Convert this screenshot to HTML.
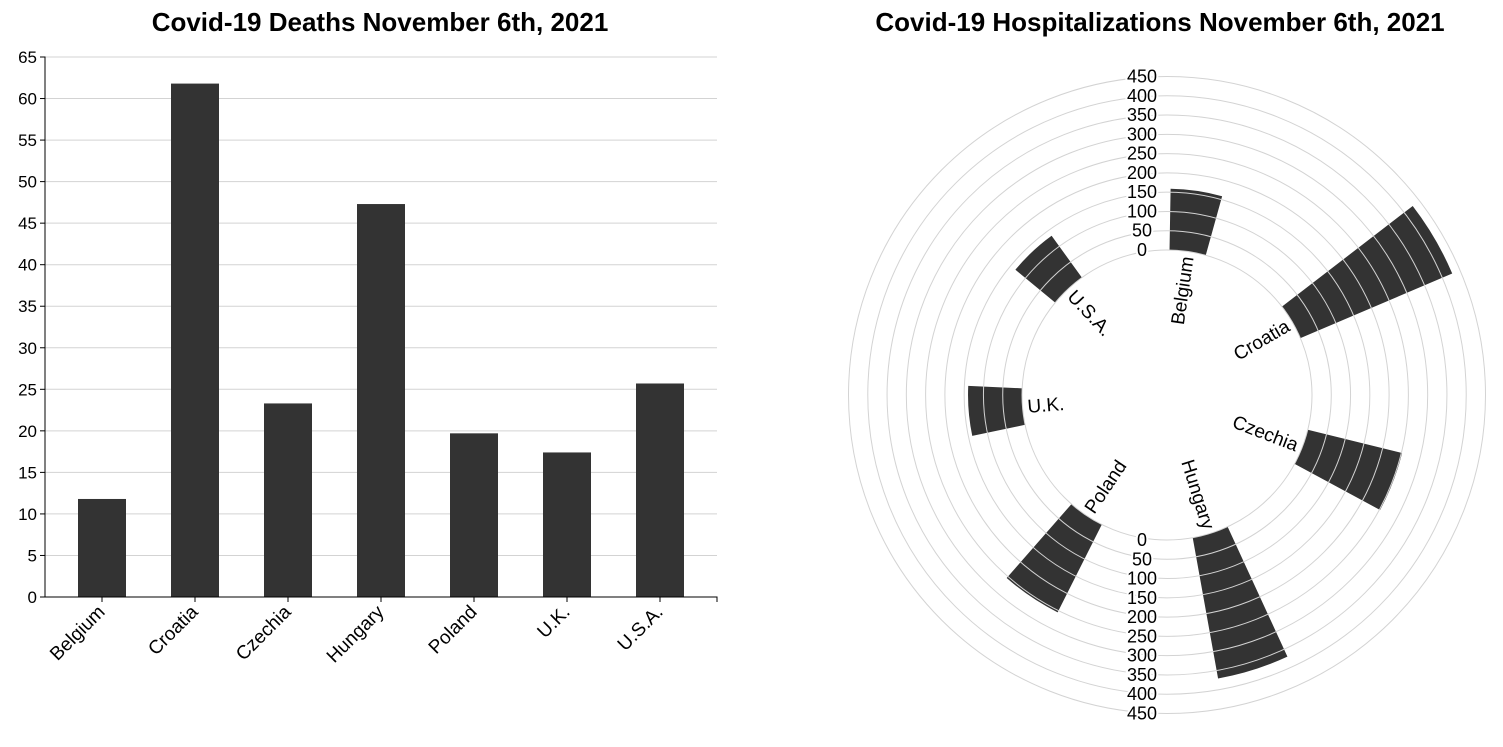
<!DOCTYPE html>
<html><head><meta charset="utf-8"><style>
body{margin:0;background:#fff;}
svg text{font-family:"Liberation Sans",Arial,sans-serif;}
</style></head><body>
<svg id="s" width="1503" height="742">
<text x="380" y="31" text-anchor="middle" font-size="26" font-weight="bold">Covid-19 Deaths November 6th, 2021</text>
<text x="1160" y="31" text-anchor="middle" font-size="26" font-weight="bold">Covid-19 Hospitalizations November 6th, 2021</text>
<g id="bar"></g><g id="rad"></g>
</svg>
<script>
const categories=["Belgium","Croatia","Czechia","Hungary","Poland","U.K.","U.S.A."];
const deaths=[11.8,61.8,23.3,47.3,19.7,17.4,25.7];
const deathTicks=[0,5,10,15,20,25,30,35,40,45,50,55,60,65];
const hosp=[159,428,252,371,255,140,134];
const hospTicks=[0,50,100,150,200,250,300,350,400,450];

const NS="http://www.w3.org/2000/svg";
function mk(p,t,a){const e=document.createElementNS(NS,t);for(const k in a)e.setAttribute(k,a[k]);p.appendChild(e);return e;}
// Bar chart
const g=document.getElementById('bar');
const x0=45,x1=717,yb=597,yt=57,ymax=65;
const y=v=>yb-(yb-yt)*v/ymax;
const step=93,bw=48,off=33;
const bx=i=>x0+off+i*step;
deathTicks.forEach(t=>{
  const l=mk(g,'line',{x1:x0,x2:x1,y1:y(t),y2:y(t),stroke:'#d3d3d3'});
  
  
  mk(g,'line',{x1:x0-5,x2:x0,y1:y(t),y2:y(t),stroke:'#000'});
  const tx=mk(g,'text',{x:x0-8,y:y(t)+6,'text-anchor':'end','font-size':17});
  tx.textContent=t;
  
  
});
deaths.forEach((v,i)=>{
  const r=mk(g,'rect',{x:bx(i),y:y(v),width:bw,height:yb-y(v),fill:'#333'});
  
  
  const cx=bx(i)+bw/2;
  mk(g,'line',{x1:cx,x2:cx,y1:yb,y2:yb+5,stroke:'#000'});
  const t=mk(g,'text',{x:cx+4,y:yb+16,'text-anchor':'end','font-size':19,transform:`rotate(-45 ${cx+4} ${yb+16})`});
  t.textContent=categories[i];
  
  
});
mk(g,'path',{d:`M${x0-5},${yt}H${x0}V${yb}H${x1}V${yb+5}`,fill:'none',stroke:'#000'});
// Radial chart
const R=document.getElementById('rad');
const cx=1167,cy=395,r0=145,r1=318.5,hmax=450;
const rs=v=>r0+(r1-r0)*v/hmax;
const astep=2*Math.PI/7,aoff=1*Math.PI/180,aw=14.5*Math.PI/180;
const pt=(a,r)=>[cx+r*Math.sin(a),cy-r*Math.cos(a)];
hosp.forEach((v,i)=>{
  const a0=aoff+i*astep,a1=a0+aw,ro=rs(v);
  const p1=pt(a0,r0),p2=pt(a0,ro),p3=pt(a1,ro),p4=pt(a1,r0);
  const p=mk(R,'path',{d:`M${p1}L${p2}A${ro},${ro} 0 0 1 ${p3}L${p4}A${r0},${r0} 0 0 0 ${p1}Z`,fill:'#333'});
  
  
});
hospTicks.forEach(t=>{
  const c=mk(R,'circle',{cx:cx,cy:cy,r:rs(t),fill:'none',stroke:'#d3d3d3'});
  
  
});
hosp.forEach((v,i)=>{
  const am=(aoff+i*astep+aw/2);const deg=am*180/Math.PI;
  const [px,py]=pt(am,r0-5);
  let rot,anc;
  if(deg<180){rot=deg-90;anc='end';}else{rot=deg+90;anc='start';}
  const t=mk(R,'text',{x:px,y:py,'text-anchor':anc,'font-size':19,transform:`rotate(${rot} ${px} ${py})`,dy:'0.35em'});
  t.textContent=categories[i];
  
  
});
hospTicks.forEach(t=>{
  [-1,1].forEach(s=>{
    const yy=cy+s*rs(t)+6;
    const e=mk(R,'text',{x:1142,y:yy,'text-anchor':'middle','font-size':18,stroke:'#fff','stroke-width':4,'paint-order':'stroke',fill:'#000'});
    e.textContent=t;
    
    
  });
});
</script>
</body></html>
